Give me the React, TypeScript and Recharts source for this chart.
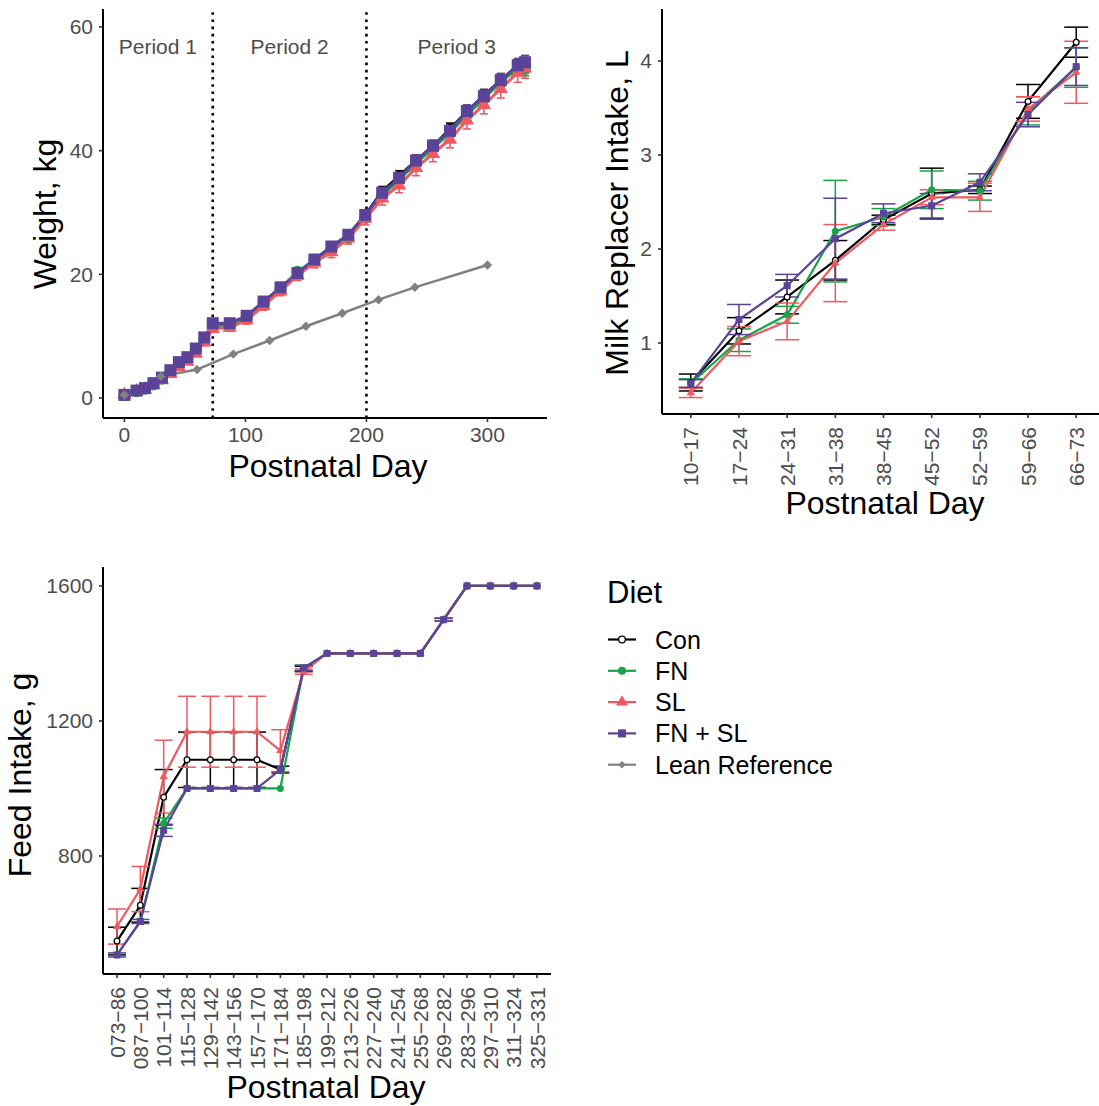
import React from 'react';
import { LineChart, Line, XAxis, YAxis, ErrorBar, ReferenceLine, ReferenceArea } from 'recharts';

const FONT = '"Liberation Sans", Arial, Helvetica, sans-serif';
const TICK = '#4D4D4D';

// ---------------- Panel A: body weight ----------------
const weightDays = [0, 10, 17, 24, 31, 38, 45, 52, 59, 66, 73, 87, 101, 115, 129, 143, 157, 171, 185, 199, 213, 227, 241, 255, 269, 283, 297, 311, 325, 331];
const weightCon = [0.5, 1.2, 1.6, 2.3, 3.2, 4.4, 5.6, 6.5, 7.9, 9.6, 11.9, 11.9, 13.2, 15.5, 17.8, 20.1, 22.3, 24.3, 26.3, 29.6, 33.4, 35.9, 38.4, 40.7, 43.5, 46.3, 48.9, 51.4, 53.6, 53.8];
const weightConSE = [0.05, 0.1, 0.1, 0.15, 0.2, 0.25, 0.3, 0.3, 0.35, 0.4, 0.45, 0.45, 0.5, 0.5, 0.55, 0.6, 0.6, 0.65, 0.7, 0.75, 0.8, 0.85, 0.9, 0.9, 0.95, 1.0, 1.0, 1.05, 1.1, 1.1];
const weightFN = [0.5, 1.1, 1.5, 2.2, 3.1, 4.3, 5.4, 6.3, 7.6, 9.4, 11.6, 11.7, 13.0, 15.3, 17.7, 20.4, 22.3, 24.0, 25.9, 29.2, 32.8, 35.3, 38.0, 40.4, 42.9, 45.8, 48.4, 51.1, 53.3, 53.2];
const weightFNSE = [0.05, 0.1, 0.1, 0.15, 0.2, 0.2, 0.25, 0.3, 0.3, 0.35, 0.4, 0.4, 0.45, 0.5, 0.5, 0.55, 0.6, 0.6, 0.65, 0.7, 0.75, 0.8, 0.85, 0.85, 0.9, 0.95, 1.0, 1.0, 1.05, 1.1];
const weightSL = [0.5, 1.1, 1.4, 2.1, 2.9, 3.9, 5.0, 5.9, 7.2, 9.0, 11.2, 11.4, 12.6, 14.9, 17.3, 19.8, 21.9, 23.6, 25.8, 29.0, 32.3, 34.4, 37.2, 39.5, 41.8, 44.9, 47.4, 50.0, 52.6, 53.3];
const weightSLSE = [0.05, 0.1, 0.15, 0.2, 0.25, 0.3, 0.35, 0.4, 0.45, 0.5, 0.55, 0.6, 0.65, 0.7, 0.75, 0.8, 0.85, 0.9, 0.9, 1.0, 1.1, 1.2, 1.25, 1.3, 1.35, 1.4, 1.45, 1.5, 1.55, 1.6];
const weightFNSL = [0.5, 1.2, 1.6, 2.4, 3.3, 4.5, 5.8, 6.6, 8.0, 9.8, 12.1, 12.1, 13.3, 15.6, 17.9, 20.2, 22.4, 24.5, 26.4, 29.6, 33.2, 35.6, 38.4, 40.8, 43.2, 46.4, 48.8, 51.4, 53.8, 54.3];
const weightFNSLSE = [0.05, 0.1, 0.1, 0.15, 0.2, 0.25, 0.3, 0.3, 0.35, 0.4, 0.45, 0.45, 0.5, 0.5, 0.55, 0.6, 0.6, 0.65, 0.7, 0.75, 0.8, 0.85, 0.9, 0.9, 0.95, 1.0, 1.0, 1.05, 1.1, 1.1];
const leanDays = [0, 30, 60, 90, 120, 150, 180, 210, 240, 300];
const leanWeight = [0.5, 3.5, 4.6, 7.1, 9.3, 11.6, 13.7, 15.9, 17.9, 21.5];
const weightTicks = [0, 20, 40, 60];
const dayTicks = [0, 100, 200, 300];
const dayDomain = [-17.7, 349.2];
const weightDomain = [-3.23, 62.9];
const periodBounds = [73, 200];
const periodLabels = ['Period 1', 'Period 2', 'Period 3'];

// ---------------- Panel B: milk replacer intake ----------------
const milkWeeks = ['10−17', '17−24', '24−31', '31−38', '38−45', '45−52', '52−59', '59−66', '66−73'];
const milkCon = [0.58, 1.13, 1.49, 1.88, 2.31, 2.59, 2.63, 3.57, 4.20];
const milkConSE = [0.09, 0.14, 0.18, 0.21, 0.05, 0.27, 0.04, 0.18, 0.16];
const milkFN = [0.57, 1.03, 1.30, 2.19, 2.34, 2.63, 2.62, 3.47, 3.93];
const milkFNSE = [0.05, 0.12, 0.09, 0.54, 0.09, 0.2, 0.1, 0.15, 0.21];
const milkSL = [0.47, 1.02, 1.23, 1.85, 2.26, 2.55, 2.55, 3.49, 3.88];
const milkSLSE = [0.05, 0.155, 0.195, 0.41, 0.06, 0.08, 0.15, 0.13, 0.33];
const milkFNSL = [0.57, 1.25, 1.61, 2.11, 2.38, 2.46, 2.71, 3.43, 3.94];
const milkFNSLSE = [0.04, 0.16, 0.12, 0.43, 0.1, 0.13, 0.09, 0.13, 0.2];
const milkTicks = [1, 2, 3, 4];
const milkDomain = [0.245, 4.553];

// ---------------- Panel C: feed intake ----------------
const feedPeriods = ['073−86', '087−100', '101−114', '115−128', '129−142', '143−156', '157−170', '171−184', '185−198', '199−212', '213−226', '227−240', '241−254', '255−268', '269−282', '283−296', '297−310', '311−324', '325−331'];
const feedCon = [548, 654, 974, 1085, 1085, 1085, 1085, 1056, 1354, 1400, 1400, 1400, 1400, 1400, 1500, 1600, 1600, 1600, 1600];
const feedConSE = [41, 50, 82, 82, 82, 82, 82, 10, 8, 0, 0, 0, 0, 0, 4, 0, 0, 0, 0];
const feedFN = [507, 606, 897, 1000, 1000, 1000, 1000, 1000, 1357, 1400, 1400, 1400, 1400, 1400, 1500, 1600, 1600, 1600, 1600];
const feedFNSE = [0, 0, 15, 0, 0, 0, 0, 0, 8, 0, 0, 0, 0, 0, 4, 0, 0, 0, 0];
const feedSL = [591, 702, 1035, 1168, 1168, 1168, 1168, 1112, 1346, 1400, 1400, 1400, 1400, 1400, 1500, 1600, 1600, 1600, 1600];
const feedSLSE = [52, 67, 108, 105, 105, 105, 105, 62, 8, 0, 0, 0, 0, 0, 4, 0, 0, 0, 0];
const feedFNSL = [507, 606, 876, 1000, 1000, 1000, 1000, 1056, 1357, 1400, 1400, 1400, 1400, 1400, 1500, 1600, 1600, 1600, 1600];
const feedFNSLSE = [6, 6, 18, 0, 0, 0, 0, 0, 8, 0, 0, 0, 0, 0, 4, 0, 0, 0, 0];
const feedTicks = [800, 1200, 1600];
const feedDomain = [450.4, 1656];

// ---------------- styling ----------------
type Shape = 'open' | 'circle' | 'triangle' | 'square' | 'diamond';
const SERIES: { key: string; name: string; color: string; shape: Shape }[] = [
  { key: 'con', name: 'Con', color: '#000000', shape: 'open' },
  { key: 'fn', name: 'FN', color: '#17A34A', shape: 'circle' },
  { key: 'sl', name: 'SL', color: '#EF5960', shape: 'triangle' },
  { key: 'fnsl', name: 'FN + SL', color: '#5A4399', shape: 'square' },
];
const LEAN = { key: 'lean', name: 'Lean Reference', color: '#808080', shape: 'diamond' as Shape };

function Mark({ shape, cx, cy, size, color }: { shape: Shape; cx: number; cy: number; size: number; color: string }) {
  if (cx == null || cy == null || isNaN(cx) || isNaN(cy)) return null;
  const h = size / 2;
  if (shape === 'open') {
    const sw = Math.max(1.3, size / 7);
    return <circle cx={cx} cy={cy} r={h - sw / 2} fill="#ffffff" stroke={color} strokeWidth={sw} />;
  }
  if (shape === 'circle') return <circle cx={cx} cy={cy} r={h} fill={color} />;
  if (shape === 'square') return <rect x={cx - h} y={cy - h} width={size} height={size} fill={color} />;
  if (shape === 'triangle') {
    const s = size * 1.2;
    const th = s * 0.866;
    return <polygon points={`${cx},${cy - (2 * th) / 3} ${cx - s / 2},${cy + th / 3} ${cx + s / 2},${cy + th / 3}`} fill={color} />;
  }
  const d = h * 1.05;
  return <polygon points={`${cx},${cy - d} ${cx + d},${cy} ${cx},${cy + d} ${cx - d},${cy}`} fill={color} />;
}

const dotFn = (id: string, shape: Shape, color: string, size: number) => (p: any) => (
  <Mark key={`${id}-${p.index}`} shape={shape} cx={p.cx} cy={p.cy} size={size} color={color} />
);

const axisLine = { stroke: '#000000', strokeWidth: 2 };
const tickLine = { stroke: '#333333', strokeWidth: 1.6 };
const tickStyle = { fill: TICK, fontSize: 21, fontFamily: FONT };

const RotTick = (props: any) => {
  const { x, y, payload } = props;
  return (
    <text x={x} y={y} transform={`rotate(-90, ${x}, ${y})`} textAnchor="end" dy="0.36em" fill={TICK} fontSize={21} fontFamily={FONT}>
      {payload.value}
    </text>
  );
};

// ---------------- data tables ----------------
const weightSeries: Record<string, { day: number; v: number; e: number }[]> = {
  con: weightDays.map((d, i) => ({ day: d, v: weightCon[i], e: weightConSE[i] })),
  fn: weightDays.map((d, i) => ({ day: d, v: weightFN[i], e: weightFNSE[i] })),
  sl: weightDays.map((d, i) => ({ day: d, v: weightSL[i], e: weightSLSE[i] })),
  fnsl: weightDays.map((d, i) => ({ day: d, v: weightFNSL[i], e: weightFNSLSE[i] })),
};
const leanSeries = leanDays.map((d, i) => ({ day: d, v: leanWeight[i] }));

const milkData = milkWeeks.map((w, i) => ({
  cat: w,
  con: milkCon[i], conE: milkConSE[i],
  fn: milkFN[i], fnE: milkFNSE[i],
  sl: milkSL[i], slE: milkSLSE[i],
  fnsl: milkFNSL[i], fnslE: milkFNSLSE[i],
}));

const feedData = feedPeriods.map((w, i) => ({
  cat: w,
  con: feedCon[i], conE: feedConSE[i],
  fn: feedFN[i], fnE: feedFNSE[i],
  sl: feedSL[i], slE: feedSLSE[i],
  fnsl: feedFNSL[i], fnslE: feedFNSLSE[i],
}));

const periodAreas = [
  [dayDomain[0], periodBounds[0]],
  [periodBounds[0], periodBounds[1]],
  [periodBounds[1], dayDomain[1]],
];

function WeightPanel() {
  return (
    <LineChart width={560} height={480} margin={{ top: 9, right: 13, bottom: 0, left: 0 }}>
      <XAxis type="number" dataKey="day" domain={dayDomain} ticks={dayTicks} allowDataOverflow height={62}
        tickSize={4} tickMargin={5} axisLine={axisLine} tickLine={tickLine} tick={tickStyle} interval={0} />
      <YAxis type="number" domain={weightDomain} ticks={weightTicks} allowDataOverflow width={103}
        tickSize={4} tickMargin={6} axisLine={axisLine} tickLine={tickLine} tick={tickStyle} interval={0} />
      {periodAreas.map((a, i) => (
        <ReferenceArea key={`pa${i}`} x1={a[0]} x2={a[1]} y1={weightDomain[0]} y2={weightDomain[1]} fill="none" stroke="none"
          ifOverflow="visible"
          label={(lp: any) => {
            const vb = lp.viewBox || {};
            return (
              <text x={vb.x + vb.width / 2} y={vb.y + 45} textAnchor="middle" fill={TICK} fontSize={21} fontFamily={FONT}>
                {periodLabels[i]}
              </text>
            );
          }} />
      ))}
      {periodBounds.map((b) => (
        <ReferenceLine key={`pb${b}`} x={b} stroke="#000000" strokeWidth={2.6} strokeDasharray="2.6 4.6" />
      ))}
      {SERIES.map((s) => (
        <Line key={`wl-${s.key}`} data={weightSeries[s.key]} dataKey="v" type="linear" stroke={s.color} strokeWidth={3}
          dot={false} activeDot={false} isAnimationActive={false} legendType="none">
          <ErrorBar dataKey="e" width={4} stroke={s.color} strokeWidth={1.6} direction="y" />
        </Line>
      ))}
      <Line data={leanSeries} dataKey="v" type="linear" stroke={LEAN.color} strokeWidth={2.5}
        dot={false} activeDot={false} isAnimationActive={false} legendType="none" />
      {SERIES.map((s) => (
        <Line key={`wp-${s.key}`} data={weightSeries[s.key]} dataKey="v" type="linear" stroke="none" strokeWidth={0}
          dot={dotFn(`w${s.key}`, s.shape, s.color, s.shape === 'open' ? 10 : 12)} activeDot={false} isAnimationActive={false} legendType="none" />
      ))}
      <Line data={leanSeries} dataKey="v" type="linear" stroke="none" strokeWidth={0}
        dot={dotFn('wlean', LEAN.shape, LEAN.color, 9)} activeDot={false} isAnimationActive={false} legendType="none" />
    </LineChart>
  );
}

function CategoryPanel({ data, width, height, yWidth, xHeight, right, pad, domain, ticks, cap, markSize }:
  { data: any[]; width: number; height: number; yWidth: number; xHeight: number; right: number; pad: number; domain: number[]; ticks: number[]; cap: number; markSize: number }) {
  return (
    <LineChart width={width} height={height} data={data} margin={{ top: 9, right, bottom: 0, left: 0 }}>
      <XAxis dataKey="cat" type="category" height={xHeight} padding={{ left: pad, right: pad }} interval={0}
        tickSize={4} tickMargin={9} axisLine={axisLine} tickLine={tickLine} tick={<RotTick />} />
      <YAxis type="number" domain={domain} ticks={ticks} allowDataOverflow width={yWidth} interval={0}
        tickSize={4} tickMargin={6} axisLine={axisLine} tickLine={tickLine} tick={tickStyle} />
      {SERIES.map((s) => (
        <Line key={`cl-${s.key}`} dataKey={s.key} type="linear" stroke={s.color} strokeWidth={2.2}
          dot={false} activeDot={false} isAnimationActive={false} legendType="none">
          <ErrorBar dataKey={`${s.key}E`} width={cap} stroke={s.color} strokeWidth={1.5} direction="y" />
        </Line>
      ))}
      {SERIES.map((s) => (
        <Line key={`cp-${s.key}`} dataKey={s.key} type="linear" stroke="none" strokeWidth={0}
          dot={dotFn(`c${s.key}`, s.shape, s.color, markSize)} activeDot={false} isAnimationActive={false} legendType="none" />
      ))}
    </LineChart>
  );
}

function Overlay() {
  const legendY = [639.5, 670.8, 702.1, 733.4, 764.7];
  const items = [...SERIES, LEAN];
  const legendSize: Record<string, number> = { open: 8, circle: 8, triangle: 10, square: 8, diamond: 7 };
  return (
    <svg width={1099} height={1106} style={{ position: 'absolute', left: 0, top: 0, pointerEvents: 'none' }}>
      <g fontFamily={FONT} fill="#000000" fontSize={32}>
        <text x={328} y={477} textAnchor="middle">Postnatal Day</text>
        <text x={885} y={514} textAnchor="middle">Postnatal Day</text>
        <text x={326} y={1098} textAnchor="middle">Postnatal Day</text>
        <text transform="translate(56,214) rotate(-90)" textAnchor="middle">Weight, kg</text>
        <text transform="translate(628,213) rotate(-90)" textAnchor="middle">Milk Replacer Intake, L</text>
        <text transform="translate(31,775) rotate(-90)" textAnchor="middle">Feed Intake, g</text>
      </g>
      <text x={607} y={603} fontFamily={FONT} fontSize={31} fill="#000000">Diet</text>
      {items.map((s, i) => (
        <g key={`lg-${s.key}`}>
          <line x1={608} x2={636} y1={legendY[i]} y2={legendY[i]} stroke={s.color} strokeWidth={2.2} />
          <Mark shape={s.shape} cx={622} cy={legendY[i]} size={legendSize[s.shape]} color={s.color} />
          <text x={655} y={legendY[i] + 9} fontFamily={FONT} fontSize={25} fill="#000000">{s.name}</text>
        </g>
      ))}
    </svg>
  );
}

export default function App() {
  return (
    <div style={{ position: 'absolute', left: 0, top: 0, width: 1099, height: 1106, overflow: 'hidden', background: '#ffffff', fontFamily: FONT }}>
      <div style={{ position: 'absolute', left: 0, top: 0 }}>
        <WeightPanel />
      </div>
      <div style={{ position: 'absolute', left: 560, top: 0 }}>
        <CategoryPanel data={milkData} width={545} height={520} yWidth={102} xHeight={106} right={0} pad={28.8}
          domain={milkDomain} ticks={milkTicks} cap={12} markSize={7} />
      </div>
      <div style={{ position: 'absolute', left: 0, top: 558 }}>
        <CategoryPanel data={feedData} width={560} height={548} yWidth={103} xHeight={132} right={9} pad={14}
          domain={feedDomain} ticks={feedTicks} cap={9} markSize={7} />
      </div>
      <Overlay />
    </div>
  );
}
